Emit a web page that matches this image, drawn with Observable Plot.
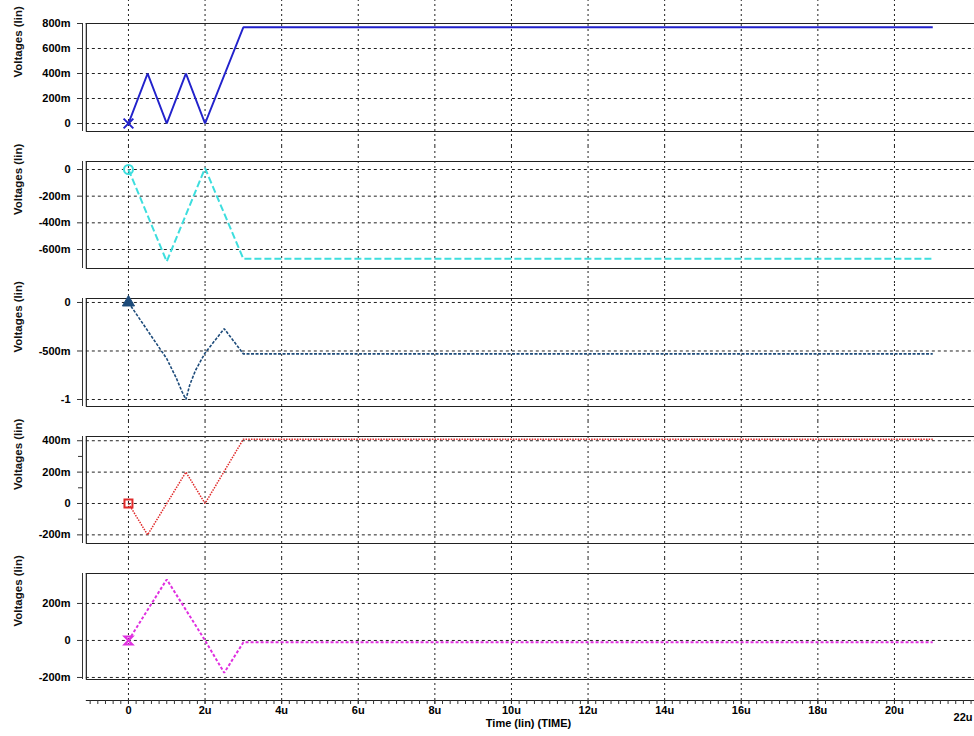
<!DOCTYPE html>
<html>
<head>
<meta charset="utf-8">
<script src="https://cdn.jsdelivr.net/npm/d3@7"></script>
<script src="https://cdn.jsdelivr.net/npm/@observablehq/plot@0.6"></script>
<style>
  html, body { margin: 0; padding: 0; background: #fff; overflow: hidden; }
  #chart { position: relative; width: 974px; height: 736px; background: #fff;
           font-family: "Liberation Sans", Arial, sans-serif; }
  #chart > svg, #chart > figure { position: absolute; left: 0; margin: 0; }
</style>
</head>
<body>
<div id="chart"></div>
<script>
// ---- Data (time in microseconds, values in volts) ----
const s1T = [0, 0.5, 1, 1.5, 2, 3, 21];
const s1V = [0, 0.4, 0, 0.4, 0, 0.77, 0.77];

const s2T = [0, 1, 2, 3, 21];
const s2V = [0, -0.69, 0.01, -0.67, -0.67];

const s3T = [0, 0.5, 1, 1.25, 1.4, 1.5, 1.6, 1.75, 2, 2.5, 3, 21];
const s3V = [0, -0.29, -0.58, -0.78, -0.92, -1.0, -0.85, -0.7, -0.52, -0.27, -0.53, -0.53];

const s4T = [0, 0.5, 1.5, 2, 3, 21];
const s4V = [0, -0.2, 0.2, 0, 0.41, 0.41];

const s5T = [0, 1, 2, 2.5, 3, 21];
const s5V = [0, 0.33, 0, -0.175, -0.01, -0.01];

// tick values
const p1Ticks = [0, 0.2, 0.4, 0.6, 0.8];
const p2Ticks = [0, -0.2, -0.4, -0.6];
const p3Ticks = [0, -0.5, -1];
const p4Ticks = [-0.2, 0, 0.2, 0.4];
const p4Minor = [-0.1, 0.1, 0.3];
const p5Ticks = [-0.2, 0, 0.2];
const xMajor = [0, 2, 4, 6, 8, 10, 12, 14, 16, 18, 20];
const xMajorLabels = ["0", "2u", "4u", "6u", "8u", "10u", "12u", "14u", "16u", "18u", "20u"];
const yLabel = "Voltages (lin)";
const xLabel = "Time (lin) (TIME)";
const lastXLabel = "22u";

// ---- Layout ----
const W = 974;
const X_DOMAIN = [-1.2, 22.09];
const FRAME_X0 = -1.1;
const FONT = "Liberation Sans, Arial, sans-serif";

const hourglass = {
  draw(ctx, size) {
    const r = Math.sqrt(size) / 2;
    ctx.moveTo(-r, -r); ctx.lineTo(r, -r); ctx.lineTo(-r, r); ctx.lineTo(r, r); ctx.closePath();
  }
};

function fmt(v) {
  if (Math.abs(v) < 1e-9) return "0";
  if (Math.abs(v) >= 1) return String(v);
  return Math.round(v * 1000) + "m";
}

const panels = [
  {t: s1T, v: s1V, ticks: p1Ticks, minor: [], band: [0, 146], frame: [23, 131], domain: [-0.064, 0.8],
   stroke: "#2222cc", width: 2, dash: null, symbol: "times", r: 4.5, fill: "none", sw: 2},
  {t: s2T, v: s2V, ticks: p2Ticks, minor: [], band: [146, 283], frame: [161, 268], domain: [-0.7425, 0.06],
   stroke: "#3ddede", width: 2, dash: "7,3", symbol: "circle", r: 4.5, fill: "none", sw: 2},
  {t: s3T, v: s3V, ticks: p3Ticks, minor: [], band: [283, 421], frame: [298, 406], domain: [-1.072, 0.041],
   stroke: "#1d4b7a", width: 1.6, dash: "3,1.5", symbol: "triangle", r: 4.5, fill: "#1d4b7a", sw: 1},
  {t: s4T, v: s4V, ticks: p4Ticks, minor: p4Minor, band: [421, 558], frame: [436, 543], domain: [-0.255, 0.427],
   stroke: "#e02a2a", width: 1.5, dash: "1.5,1.2", symbol: "square", r: 4.5, fill: "none", sw: 2},
  {t: s5T, v: s5V, ticks: p5Ticks, minor: [], band: [558, 690], frame: [573, 679], domain: [-0.211, 0.362],
   stroke: "#e030e0", width: 2, dash: "3,2", symbol: hourglass, r: 4.5, fill: "none", sw: 2}
];

const chart = document.getElementById("chart");

for (const p of panels) {
  const height = p.band[1] - p.band[0];
  const mt = p.frame[0] - p.band[0];
  const mb = p.band[1] - p.frame[1];
  const k = (p.frame[1] - p.frame[0]) / (p.domain[1] - p.domain[0]);
  const yLo = p.domain[0] - mb / k;
  const yHi = p.domain[1] + mt / k;
  const data = p.t.map((t, i) => ({t, v: p.v[i]}));

  const marks = [
    Plot.ruleX(xMajor, {y1: yLo, y2: yHi, stroke: "#222", strokeDasharray: "2,3", strokeWidth: 1}),
    Plot.ruleY(p.ticks, {x1: FRAME_X0, x2: X_DOMAIN[1], stroke: "#222", strokeDasharray: "3,3", strokeWidth: 1}),
    Plot.ruleY([p.domain[0], p.domain[1]], {x1: FRAME_X0, x2: X_DOMAIN[1], stroke: "#222", strokeWidth: 1.2}),
    Plot.ruleX([FRAME_X0], {y1: p.domain[0], y2: p.domain[1], stroke: "#222", strokeWidth: 1.2}),
    Plot.ruleX([X_DOMAIN[0]], {y1: p.domain[0], y2: p.domain[1], stroke: "#333", strokeWidth: 1}),
    Plot.axisY({ticks: p.ticks, tickSize: 5, tickPadding: 7, tickFormat: fmt, label: null,
                fontWeight: "bold", fontSize: 11, stroke: "#333"}),
    Plot.line(data, {x: "t", y: "v", stroke: p.stroke, strokeWidth: p.width,
                     strokeDasharray: p.dash, strokeLinejoin: "miter", strokeLinecap: "butt"}),
    Plot.dot([data[0]], {x: "t", y: "v", symbol: p.symbol, r: p.r, stroke: p.stroke,
                         fill: p.fill, strokeWidth: p.sw}),
    Plot.text([yLabel], {text: d => d, frameAnchor: "left", dx: -64, rotate: -90,
                         fontWeight: "bold", fontSize: 11.5, fill: "#111"})
  ];
  if (p.minor.length) {
    marks.push(Plot.axisY({ticks: p.minor, tickSize: 4, tickFormat: () => "", label: null, stroke: "#333"}));
  }

  const svg = Plot.plot({
    width: W, height,
    marginLeft: 82, marginRight: 0, marginTop: mt, marginBottom: mb,
    style: {fontFamily: FONT, background: "transparent", overflow: "visible"},
    x: {domain: X_DOMAIN, axis: null},
    y: {domain: p.domain, axis: null},
    marks
  });
  svg.style.top = p.band[0] + "px";
  chart.appendChild(svg);
}

// ---- bottom time axis ----
{
  const top = 690, height = 46;
  const minorTicks = d3.range(-1, 22.01, 0.2).map(d => +d.toFixed(1));
  const svg = Plot.plot({
    width: W, height,
    marginLeft: 82, marginRight: 0, marginTop: 0, marginBottom: 36,
    style: {fontFamily: FONT, background: "transparent", overflow: "visible"},
    x: {domain: X_DOMAIN, axis: null},
    y: {domain: [0, 1], axis: null},
    marks: [
      Plot.ruleX(xMajor, {y1: 0, y2: 1, stroke: "#222", strokeDasharray: "2,3"}),
      Plot.ruleY([0], {x1: FRAME_X0, x2: X_DOMAIN[1], stroke: "#222", strokeWidth: 1.2}),
      Plot.axisX({ticks: minorTicks, tickSize: 4, tickFormat: () => "", label: null, stroke: "#333"}),
      Plot.axisX({ticks: xMajor, tickSize: 4, tickPadding: 2, label: null,
                  tickFormat: (d) => xMajorLabels[xMajor.indexOf(d)],
                  fontWeight: "bold", fontSize: 11, stroke: "#333"}),
      Plot.text([lastXLabel], {text: d => d, x: 22, frameAnchor: "bottom", dy: 20, dx: -8,
                               fontWeight: "bold", fontSize: 11}),
      Plot.text([xLabel], {text: d => d, frameAnchor: "bottom", dy: 26,
                           fontWeight: "bold", fontSize: 11})
    ]
  });
  svg.style.top = top + "px";
  chart.appendChild(svg);
}
</script>
</body>
</html>
